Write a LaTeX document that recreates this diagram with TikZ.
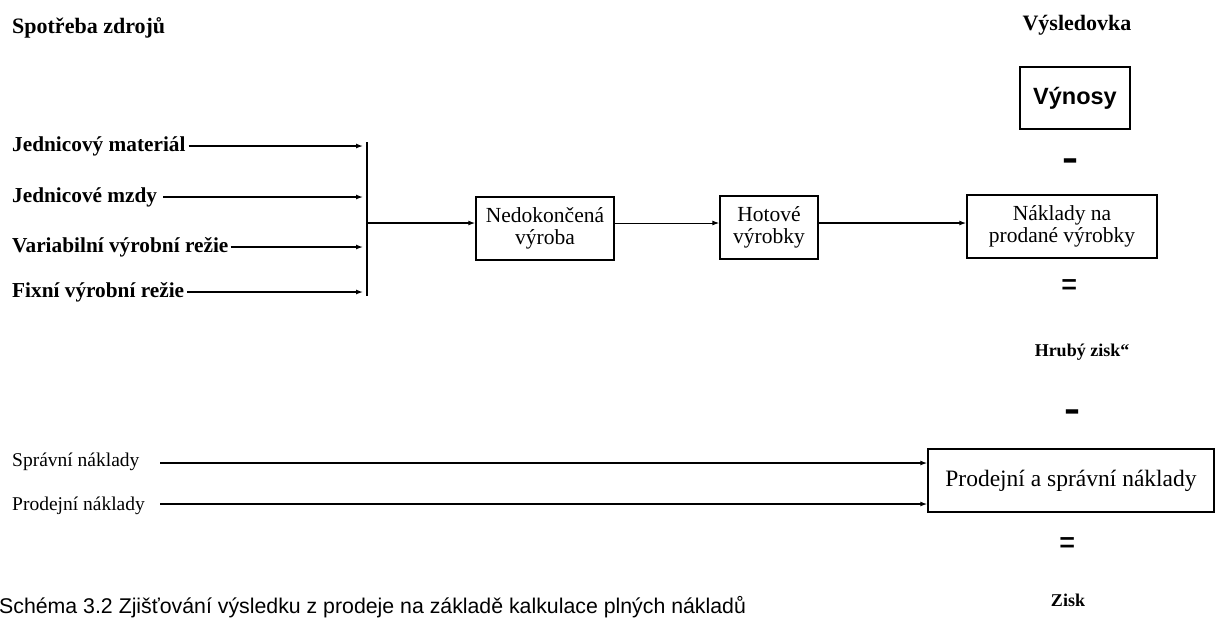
\documentclass[tikz,border=0pt]{standalone}
\usepackage{fontspec}
\usepackage{graphicx}
\setmainfont{Liberation Serif}
\newfontfamily\capfont{Liberation Sans}
\usetikzlibrary{arrows.meta}
% heavy operator signs of the income statement
\newcommand\heavyop[1]{\scalebox{1}[2.6]{#1}}
\newcommand\heavyeq{\scalebox{1.2}[1.6]{=}}
\begin{document}
\begin{tikzpicture}[x=1pt,y=-1pt,
  lab/.style={anchor=west, inner sep=0pt, font=\fontsize{21.3}{24}\selectfont\bfseries},
  labr/.style={anchor=west, inner sep=0pt, font=\fontsize{19.5}{23}\selectfont},
  head/.style={inner sep=0pt, font=\fontsize{22}{24}\selectfont\bfseries},
  box/.style={draw, line width=1.5pt, align=center, inner sep=0pt,
              font=\fontsize{21.5}{23}\selectfont},
  arr/.style={line width=1.3pt, -{Latex[length=7pt,width=5pt]}},
  ln/.style={line width=1.3pt},
  op/.style={inner sep=0pt, font=\fontsize{24}{24}\selectfont\bfseries}]
\useasboundingbox (0,0) rectangle (1216,619);

% headings
\node[lab, font=\fontsize{22}{24}\selectfont\bfseries] (src) at (12,28) {Spotřeba zdrojů};
\node[head] (vys) at (1077,25) {Výsledovka};

% resource consumption inputs
\node[lab] (l1) at (12,146) {Jednicový materiál};
\node[lab] (l2) at (12,197) {Jednicové mzdy};
\node[lab] (l3) at (12,247) {Variabilní výrobní režie};
\node[lab] (l4) at (12,292) {Fixní výrobní režie};
\coordinate (j1) at (367,142);
\coordinate (j2) at (367,197);
\coordinate (j3) at (367,247);
\coordinate (j4) at (367,296);
\coordinate (jm) at (367,223);

% production flow boxes
\node[box, minimum width=138pt, minimum height=63pt] (nedok) at (545,228.5)
  {Nedokončená\\[-1pt]výroba};
\node[box, minimum width=98pt, minimum height=63pt] (hot) at (769,227.5)
  {Hotové\\[-1pt]výrobky};
\node[box, minimum width=190pt, minimum height=63pt] (nakl) at (1062,226.5)
  {Náklady na\\[-1pt]prodané výrobky};
\node[box, minimum width=110pt, minimum height=62pt,
      font=\capfont\fontsize{23.5}{24}\selectfont\bfseries] (vyn) at (1075,98) {Výnosy};

% income statement operators
\node[op] (m1) at (1070,167) {\heavyop{–}};
\node[op] (e1) at (1070,289) {\heavyeq};
\node[head, font=\fontsize{18}{22}\selectfont\bfseries] (hz) at (1082,352) {Hrubý zisk“};
\node[op] (m2) at (1072,418) {\heavyop{–}};
\node[box, minimum width=286pt, minimum height=63pt,
      font=\fontsize{23.5}{24}\selectfont] (psn) at (1071,480.5) {Prodejní a správní náklady};
\node[op] (e2) at (1068,547) {\heavyeq};
\node[head, font=\fontsize{18}{22}\selectfont\bfseries] (zisk) at (1068,600) {Zisk};

% period costs
\node[labr] (s1) at (12,462) {Správní náklady};
\node[labr] (s2) at (12,506) {Prodejní náklady};
\coordinate (s1a) at (160,463);
\coordinate (s2a) at (160,504);

% connectors
\draw[arr, shorten <=3pt, shorten >=4pt] (l1.east) -- (l1.east -| j1);
\draw[arr, shorten <=6pt, shorten >=4pt] (l2.east) -- (j2);
\draw[arr, shorten <=2pt, shorten >=4pt] (l3.east) -- (j3);
\draw[arr, shorten <=3pt, shorten >=4pt] (l4.east) -- (l4.east -| j4);
\draw[ln] (j1) -- (j4);
\draw[arr] (jm) -- (jm -| nedok.west);
\draw[arr, line width=1pt] (nedok.east |- jm) -- (hot.west |- jm);
\draw[arr] (hot.east |- jm) -- (nakl.west |- jm);
\draw[arr] (s1a) -- (s1a -| psn.west);
\draw[arr] (s2a) -- (s2a -| psn.west);

% caption
\node[anchor=base west, inner sep=0pt, font=\capfont\fontsize{21.3}{24}\selectfont] (cap)
  at (-1,613) {Schéma 3.2 Zjišťování výsledku z prodeje na základě kalkulace plných nákladů};
\end{tikzpicture}
\end{document}
